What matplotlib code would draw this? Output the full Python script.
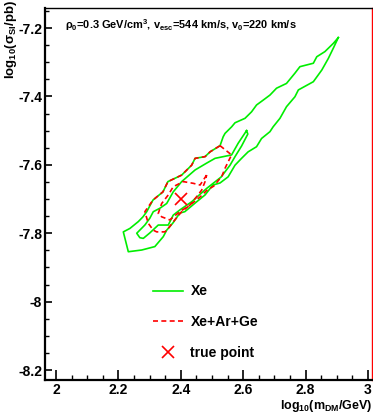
import numpy as np
import matplotlib
matplotlib.use('Agg')
import matplotlib.pyplot as plt
from matplotlib.lines import Line2D
from matplotlib.ticker import MultipleLocator, FormatStrFormatter

plt.rcParams['font.family'] = ['Liberation Sans', 'DejaVu Sans']
plt.rcParams['font.weight'] = 'bold'
plt.rcParams['axes.unicode_minus'] = False
plt.rcParams['mathtext.fontset'] = 'custom'
plt.rcParams['mathtext.rm'] = 'Liberation Sans:bold'
plt.rcParams['mathtext.it'] = 'Liberation Sans:bold'
plt.rcParams['mathtext.bf'] = 'Liberation Sans:bold'

# Xe only, outer contour (log10 mass, log10 sigma)
xe_outer_x = [2.905, 2.889, 2.873, 2.852, 2.825, 2.777, 2.766, 2.739, 2.718, 2.696,
              2.686, 2.659, 2.643, 2.616, 2.595, 2.574, 2.552, 2.526, 2.503, 2.478,
              2.451, 2.413, 2.397, 2.375, 2.355, 2.344, 2.317, 2.275, 2.232, 2.216,
              2.237, 2.264, 2.279, 2.291, 2.311, 2.343, 2.359, 2.403, 2.435, 2.446,
              2.478, 2.494, 2.526, 2.536, 2.542, 2.563, 2.574, 2.606, 2.627, 2.643,
              2.664, 2.686, 2.707, 2.739, 2.766, 2.782, 2.825, 2.836, 2.862, 2.889, 2.905]
xe_outer_y = [-7.228, -7.259, -7.289, -7.323, -7.357, -7.381, -7.401, -7.430, -7.464, -7.489,
              -7.503, -7.523, -7.547, -7.562, -7.581, -7.601, -7.635, -7.653, -7.659, -7.688,
              -7.708, -7.737, -7.741, -7.770, -7.791, -7.810, -7.839, -7.849, -7.854, -7.796,
              -7.786, -7.766, -7.752, -7.737, -7.703, -7.679, -7.649, -7.630, -7.601, -7.581,
              -7.576, -7.562, -7.544, -7.518, -7.508, -7.489, -7.477, -7.464, -7.445, -7.425,
              -7.411, -7.396, -7.376, -7.362, -7.332, -7.313, -7.303, -7.284, -7.269, -7.245, -7.228]

# Xe only, inner contour
xe_inner_x = [2.611, 2.584, 2.563, 2.510, 2.483, 2.446, 2.403, 2.376, 2.355, 2.333,
              2.312, 2.301, 2.285, 2.259, 2.269, 2.280, 2.301, 2.328, 2.360, 2.376,
              2.397, 2.435, 2.483, 2.529, 2.558, 2.574, 2.595, 2.615, 2.611]
xe_inner_y = [-7.500, -7.537, -7.571, -7.581, -7.595, -7.615, -7.649, -7.679, -7.713, -7.727,
              -7.737, -7.756, -7.776, -7.800, -7.813, -7.815, -7.799, -7.776, -7.776, -7.747,
              -7.732, -7.708, -7.669, -7.636, -7.601, -7.576, -7.545, -7.510, -7.500]

# Xe+Ar+Ge, outer contour
comb_outer_x = [2.526, 2.563, 2.552, 2.542, 2.532, 2.506, 2.483, 2.462, 2.440, 2.403,
                2.381, 2.360, 2.349, 2.323, 2.312, 2.296, 2.285, 2.311, 2.343, 2.359,
                2.403, 2.435, 2.446, 2.478, 2.494, 2.526]
comb_outer_y = [-7.544, -7.571, -7.591, -7.610, -7.633, -7.662, -7.675, -7.694, -7.710, -7.737,
                -7.761, -7.786, -7.796, -7.796, -7.791, -7.771, -7.737, -7.703, -7.679, -7.649,
                -7.630, -7.601, -7.581, -7.576, -7.562, -7.544]

# Xe+Ar+Ge, inner contour
comb_inner_x = [2.483, 2.462, 2.440, 2.408, 2.376, 2.360, 2.339, 2.328, 2.339, 2.365,
                2.397, 2.429, 2.451, 2.467, 2.478, 2.483]
comb_inner_y = [-7.630, -7.659, -7.654, -7.649, -7.664, -7.688, -7.713, -7.742, -7.752, -7.761,
                -7.737, -7.718, -7.693, -7.674, -7.649, -7.630]

true_x = [2.4]
true_y = [-7.7]

green = '#00ee00'
red = '#ff0000'

fig = plt.figure(figsize=(3.73, 4.16), dpi=100)
ax = fig.add_axes([45 / 373, 36 / 416, 327 / 373, 372 / 416])

ax.plot(xe_outer_x, xe_outer_y, color=green, lw=1.2)
ax.plot(xe_inner_x, xe_inner_y, color=green, lw=1.2)
ax.plot(comb_outer_x, comb_outer_y, color=red, lw=1.2, dashes=(3, 2))
ax.plot(comb_inner_x, comb_inner_y, color=red, lw=1.2, dashes=(3, 2))
ax.plot(true_x, true_y, 'x', color=red, ms=8, mew=1.2)

ax.set_xlim(1.965, 3.013)
ax.set_ylim(-8.229, -7.1415)

ax.xaxis.set_major_locator(MultipleLocator(0.2))
ax.xaxis.set_minor_locator(MultipleLocator(0.05))
ax.yaxis.set_major_locator(MultipleLocator(0.2))
ax.yaxis.set_minor_locator(MultipleLocator(0.05))
ax.xaxis.set_major_formatter(FormatStrFormatter('%g'))
ax.yaxis.set_major_formatter(FormatStrFormatter('%g'))

ax.tick_params(axis='x', which='major', direction='in', length=7, width=1.2, pad=2.5, labelsize=10)
ax.tick_params(axis='x', which='minor', direction='in', length=3.5, width=1)
ax.tick_params(axis='y', which='major', direction='in', length=5, width=1.2, pad=2, labelsize=10)
ax.tick_params(axis='y', which='minor', direction='in', length=3, width=1)

ax.spines['left'].set_linewidth(1.6)
ax.spines['bottom'].set_linewidth(1.6)
ax.spines['top'].set_linewidth(1.0)
ax.spines['right'].set_color(red)
ax.spines['right'].set_linewidth(1.0)

fig.text(0.03, 1.0, 'log$_{10}$(σ$_{SI}$/pb)', rotation=90, ha='center', va='top', fontsize=9.5)
fig.text(0.998, 0.004, 'log$_{10}$(m$_{DM}$/GeV)', ha='right', va='bottom', fontsize=9)

ax.text(0.06, 0.955, 'ρ$_0$=0.3 GeV/cm$^3$, v$_{esc}$=544 km/s, v$_0$=220 km/s',
        transform=ax.transAxes, ha='left', va='center', fontsize=7.9)

handles = [Line2D([], [], color=green, lw=1.2),
           Line2D([], [], color=red, lw=1.2, dashes=(3, 2)),
           Line2D([], [], color=red, marker='x', ls='none', ms=8, mew=1.2)]
ax.legend(handles, ['Xe', 'Xe+Ar+Ge', 'true point'], loc='upper left',
          bbox_to_anchor=(0.33, 0.257), frameon=False, fontsize=10,
          handlelength=2.2, handletextpad=0.5, labelspacing=1.2, borderpad=0,
          borderaxespad=0)

fig.savefig('out.png', dpi=100)
